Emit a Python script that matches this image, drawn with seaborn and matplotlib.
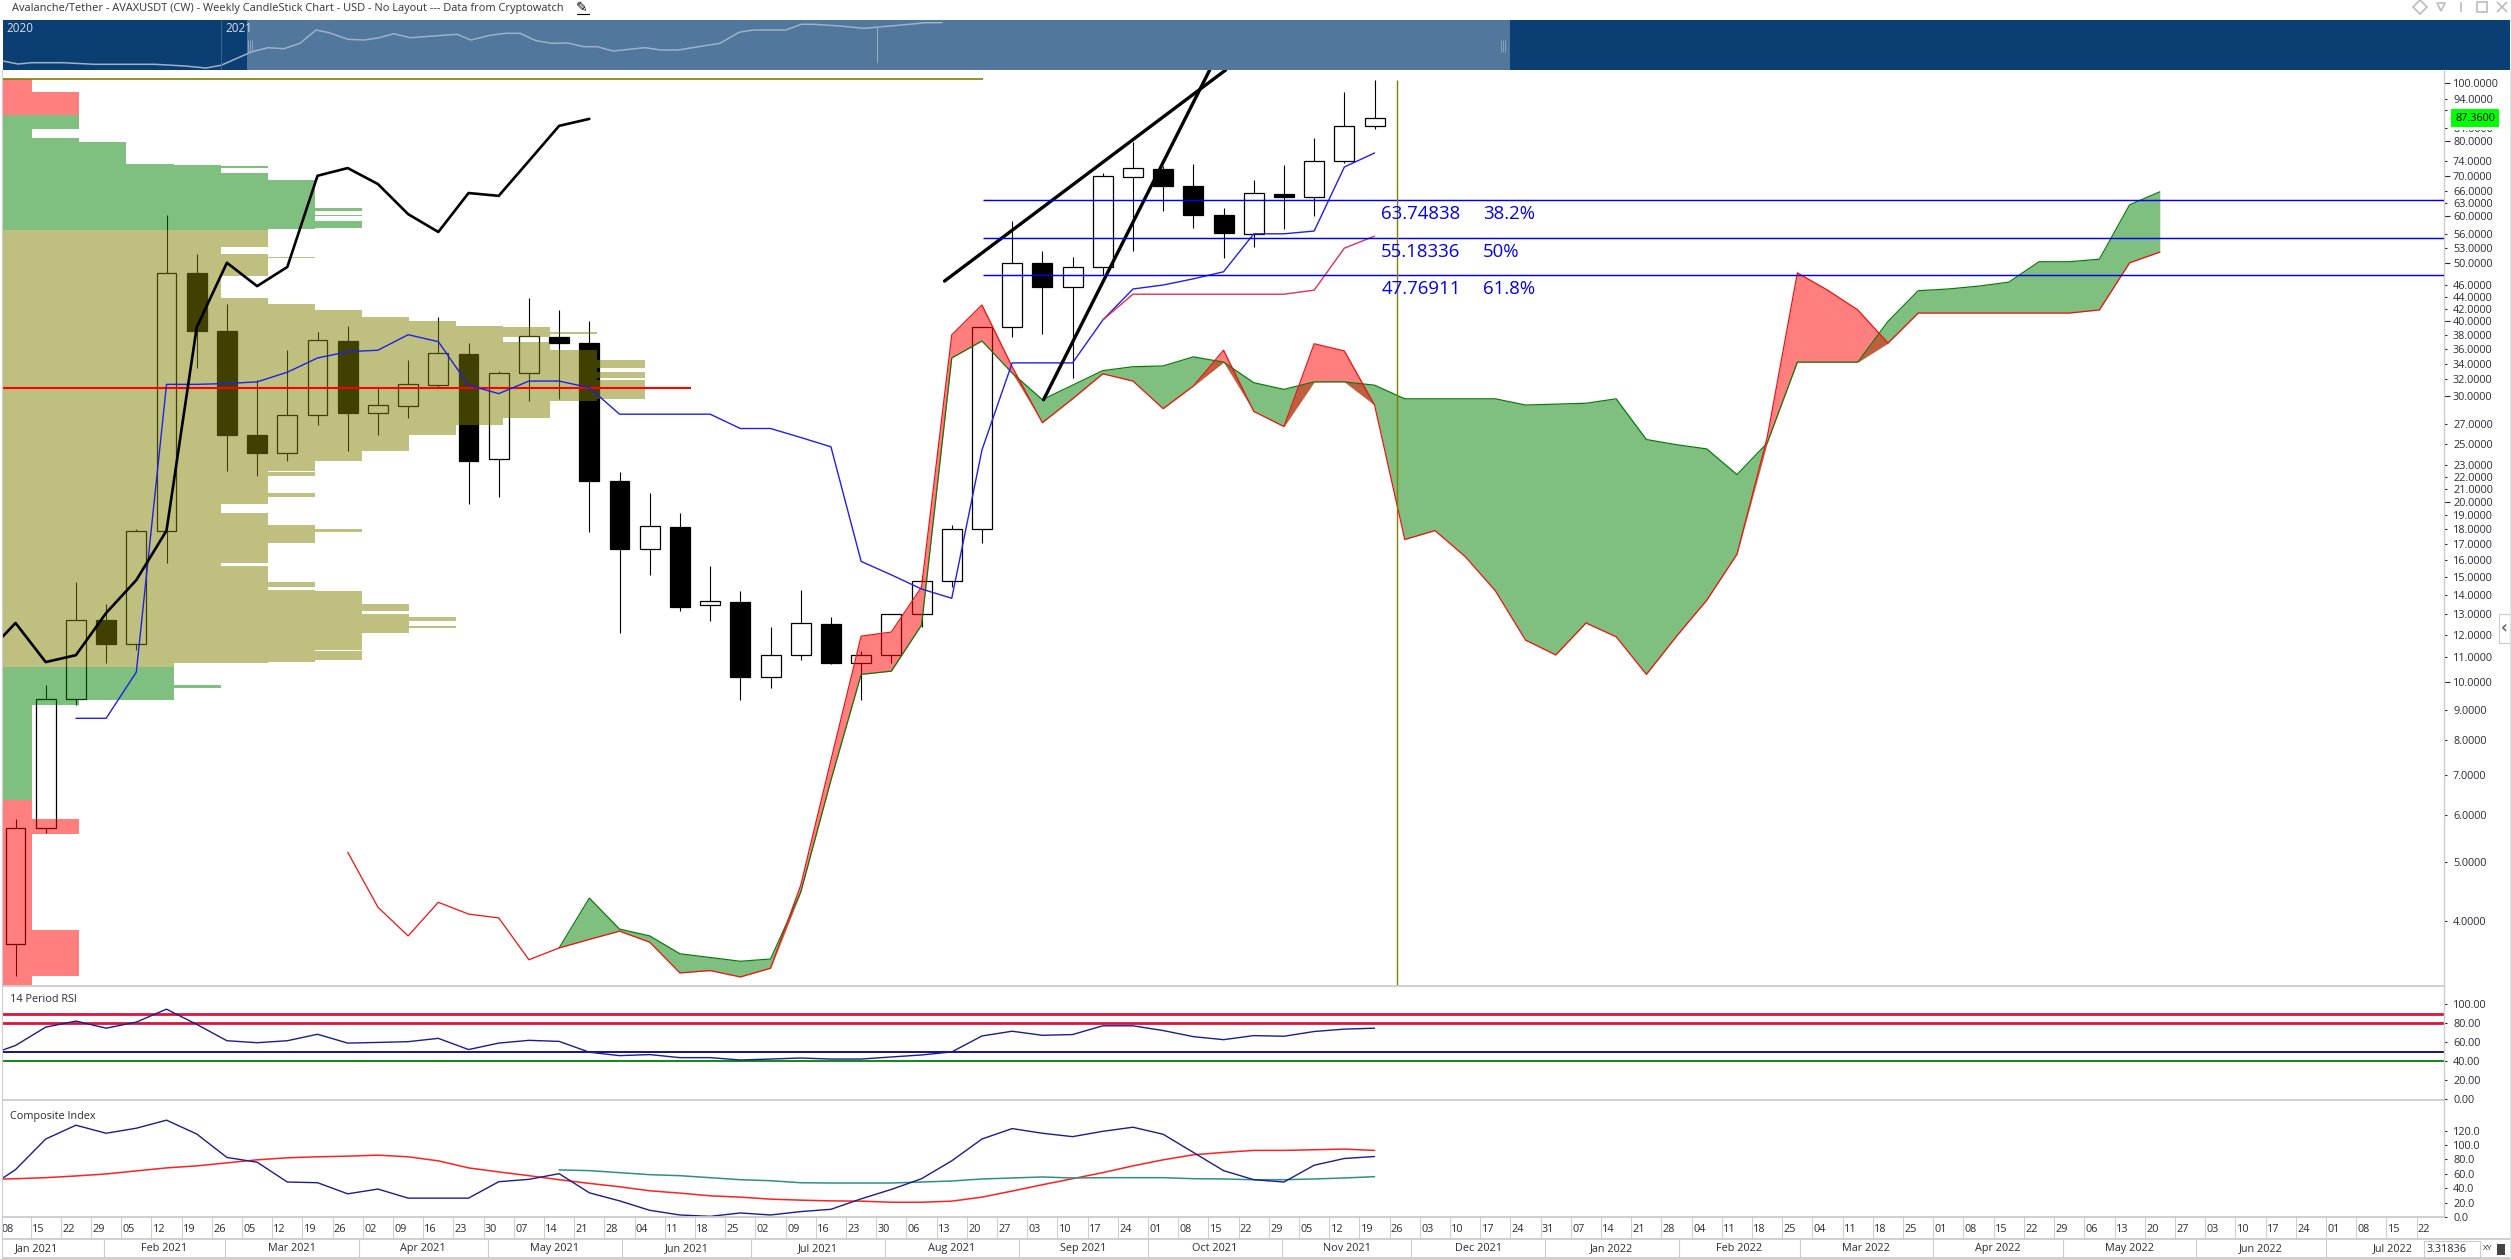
import numpy as np
import pandas as pd
import seaborn as sns
import matplotlib
matplotlib.use('Agg')
import matplotlib.pyplot as plt
from matplotlib.lines import Line2D
from matplotlib.patches import Rectangle
from matplotlib.ticker import FixedLocator, FixedFormatter

# weekly candles, AVAXUSDT
opens = [3.65, 5.71, 9.37, 12.69, 11.57, 17.87, 48.2, 38.5, 25.85, 24.1, 27.9, 37.1, 28.1, 28.9, 31.3, 35.3,
         23.6, 32.8, 37.7, 36.8, 21.7, 16.67, 18.15, 13.45, 13.6, 10.19, 11.09, 12.5, 10.76, 11.09, 13.0, 14.75,
         18.0, 39.1, 50.0, 45.6, 49.3, 69.7, 71.8, 67.3, 60.2, 56.0, 65.2, 64.5, 74.1, 84.8]
highs = [5.9, 9.89, 14.69, 13.5, 18.0, 60.2, 51.8, 42.8, 31.9, 35.8, 38.4, 39.3, 31.0, 34.5, 40.7, 36.8,
         33.0, 43.8, 41.8, 40.0, 22.4, 20.7, 19.15, 15.6, 14.19, 12.35, 14.24, 12.84, 11.27, 13.0, 15.1, 18.3,
         39.1, 58.8, 52.4, 51.2, 70.8, 79.7, 72.6, 73.2, 61.8, 68.9, 72.9, 81.0, 96.6, 101.2]
lows = [3.23, 5.6, 9.15, 10.76, 11.31, 15.8, 33.4, 22.5, 22.1, 23.4, 26.9, 24.3, 25.85, 27.6, 31.0, 19.8,
        20.4, 29.4, 29.7, 17.8, 12.07, 15.1, 13.14, 12.64, 9.33, 9.77, 10.88, 10.7, 9.33, 10.76, 12.35, 14.4,
        17.06, 37.7, 38.1, 32.2, 47.8, 52.4, 61.1, 57.3, 51.0, 53.2, 57.0, 60.0, 73.6, 83.8]
closes = [5.71, 9.37, 12.69, 11.57, 17.87, 48.2, 38.5, 25.85, 24.1, 27.9, 37.2, 28.1, 29.0, 31.4, 35.4, 23.4,
          32.8, 37.8, 36.8, 21.7, 16.67, 18.2, 13.34, 13.66, 10.19, 11.09, 12.55, 10.76, 11.09, 13.0, 14.75, 18.0,
          39.1, 50.1, 45.6, 49.3, 70.0, 72.1, 67.3, 60.2, 56.2, 65.5, 64.5, 74.1, 84.8, 87.36]

# ichimoku
span_b_start = 11
span_b = [5.2, 4.21, 3.77, 4.29, 4.1, 4.04, 3.44, 3.6, 3.72, 3.84, 3.68, 3.27, 3.3, 3.22, 3.33, 4.58, 7.41, 11.93,
          12.12, 14.41, 37.97, 42.6, 33.6, 27.1, 29.7, 32.7, 31.8, 28.6, 31.2, 35.8, 28.3, 26.7, 36.7, 35.7, 29.0,
          17.3, 17.9, 16.2, 14.2, 11.75, 11.1, 12.55, 11.9, 10.3, 11.93, 13.7, 16.35, 25.6, 48.2, 45.1, 41.8, 36.8,
          41.3, 41.3, 41.3, 41.3, 41.3, 41.3, 41.8, 50.1, 52.2]
span_a_start = 18
span_a = [3.6, 4.36, 3.87, 3.77, 3.52, 3.47, 3.42, 3.45, 4.46, 6.86, 10.3, 10.43, 12.45, 34.75, 37.1, 32.8, 29.6,
          31.3, 33.1, 33.6, 33.7, 34.9, 34.2, 31.6, 30.8, 31.7, 31.7, 31.3, 29.7, 29.7, 29.7, 29.7, 29.0, 29.1, 29.2,
          29.7, 25.4, 24.9, 24.5, 22.2, 25.06, 34.2, 34.2, 34.2, 40.0, 45.0, 45.3, 45.8, 46.5, 50.3, 50.3, 50.8,
          62.6, 65.8]
kijun_start = 2
kijun = [8.7, 8.7, 10.39, 31.4, 31.4, 31.5, 31.7, 32.9, 34.75, 35.6, 35.8, 38.0, 37.0, 31.3, 30.3, 31.8, 31.8, 31.0,
         28.0, 28.0, 28.0, 28.0, 26.5, 26.5, 25.6, 24.7, 15.9, 15.1, 14.3, 13.8, 24.4, 34.1, 34.1, 34.1, 40.2, 45.3,
         46.0, 47.1, 48.4, 56.0, 56.0, 56.6, 72.4, 76.4]
tenkan_start = 36
tenkan = [40.2, 44.4, 44.4, 44.4, 44.4, 44.4, 44.4, 45.1, 53.0, 55.5]
chikou_start = -1
chikou = [11.1, 12.55, 10.8, 11.09, 13.04, 14.8, 17.9, 39.1, 50.1, 45.8, 49.3, 70.0, 72.1, 67.8, 60.4, 56.4, 65.5,
          64.8, 74.1, 84.8, 87.1]

# hand drawn trend lines
trend1_x = [30.76, 40.07]
trend1_y = [46.7, 105.1]
trend2_x = [34.04, 39.54]
trend2_y = [29.6, 105.1]

# volume profile, price rows from the top down and their width level
vp_edges = [101.4, 96.6, 88.4, 83.8, 80.9, 79.7, 73.2, 72.9, 72.6, 72.1, 70.8, 68.9, 61.8, 61.1, 60.2, 60.0, 58.8,
            57.3, 57.0,
            56.8, 53.2, 51.8, 51.2, 51.0, 47.6, 43.8, 42.8, 41.8, 40.7, 40.0, 39.3, 39.1, 38.4, 38.1, 37.7, 36.9,
            35.8, 34.5, 33.4, 32.9, 32.2, 31.9, 29.7, 29.4, 27.6, 26.9, 25.8, 24.3, 23.4, 22.5, 22.4, 22.1, 20.7,
            20.4, 19.8, 19.15, 18.3, 18.0, 17.8, 17.06, 15.8, 15.6, 14.7, 14.4, 14.24, 14.19, 13.5, 13.14, 13.0,
            12.84, 12.64, 12.4, 12.3, 12.07, 11.31, 11.27, 10.88, 10.8, 10.76, 10.59,
            9.89, 9.77, 9.33, 9.15, 6.35, 5.9, 5.57, 3.85, 3.23, 3.11]
vp_level = [0, 1, 1, 0, 1, 2, 3, 4, 5, 4, 5, 6, 7, 6, 7, 6, 7, 6, 5,
            5, 4, 5, 6, 5, 4, 5, 6, 7, 8, 9, 10, 11, 12, 11, 10, 11, 12, 13, 12, 13, 12, 13, 12, 11, 10, 9, 8, 7, 6,
            5, 6, 5, 6, 5, 4, 5, 6, 7, 6, 5, 4, 5, 6, 5, 6, 7, 8, 7, 8, 9, 8, 9, 8, 7, 6, 7, 6, 5, 3,
            3, 4, 3, 1, 0, 0, 1, 0, 1, 0]
poc_price = 31.0
profile_top = 101.4

fib_prices = [63.74838, 55.18336, 47.76911]
fib_pcts = ['38.2%', '50%', '61.8%']
last_price = 87.36

price_major = [100, 80, 70, 60, 50, 40, 30, 20, 10]
price_minor = [94, 90, 84, 74, 66, 63, 56, 53, 46, 44, 42, 38, 36, 34, 32, 27, 25, 23, 22, 21, 19, 18, 17, 16, 15,
               14, 13, 12, 11, 9, 8, 7, 6, 5, 4]

rsi_start = -1
rsi = [45.0, 56.4, 75.7, 82.1, 74.6, 81.0, 94.6, 78.6, 61.4, 59.3, 61.4, 68.2, 58.9, 59.6, 60.4, 63.9, 52.1, 58.9,
       61.8, 60.7, 49.3, 45.7, 46.8, 43.6, 43.6, 41.1, 42.1, 43.2, 42.1, 42.1, 44.3, 46.4, 49.6, 66.4, 71.4, 67.1,
       67.9, 77.1, 77.1, 72.1, 65.7, 62.5, 66.8, 66.1, 71.1, 73.6, 74.6]
rsi_levels = [90, 80, 50, 40]
rsi_level_colors = ['#dc143c', '#dc143c', '#000080', '#008000']
rsi_ticks = [100, 80, 60, 40, 20, 0]

comp_start = -1
comp = [38.0, 65.8, 108.3, 127.5, 116.3, 123.3, 134.5, 115.3, 82.7, 76.1, 48.6, 47.6, 32.2, 38.8, 26.2, 26.2, 26.2,
        49.0, 52.3, 60.2, 33.6, 22.4, 9.3, 2.8, 0.9, 5.6, 2.8, 7.5, 10.7, 25.2, 38.3, 53.2, 78.0, 108.3, 122.8,
        116.3, 111.6, 119.0, 124.7, 114.9, 89.7, 64.4, 51.8, 48.6, 71.9, 81.3, 84.0]
comp_fast_start = -1
comp_fast = [52.0, 53.2, 54.6, 57.0, 59.8, 64.0, 68.2, 71.0, 75.2, 79.4, 82.2, 83.6, 84.5, 85.9, 83.6, 78.0, 68.2, 62.6,
             57.4, 51.8, 46.7, 42.0, 36.4, 33.2, 29.4, 27.6, 24.8, 23.4, 22.4, 22.0, 20.5, 20.5, 22.0, 27.6, 36.0,
             44.8, 53.2, 61.6, 71.0, 79.4, 86.4, 89.7, 92.5, 92.5, 93.4, 94.3, 92.5]
comp_slow_start = 18
comp_slow = [65.4, 64.4, 61.6, 58.8, 57.4, 54.6, 51.8, 50.4, 47.6, 47.2, 47.2, 47.2, 48.6, 50.0, 52.8, 54.2, 55.6,
             54.2, 54.6, 54.6, 54.6, 53.2, 52.8, 51.8, 51.8, 52.8, 54.2, 56.0]
comp_ticks = [120, 100, 80, 60, 40, 20, 0]

week_labels = ['08', '15', '22', '29', '05', '12', '19', '26', '05', '12', '19', '26', '02', '09', '16', '23', '30',
               '07', '14', '21', '28', '04', '11', '18', '25', '02', '09', '16', '23', '30', '06', '13', '20', '27',
               '03', '10', '17', '24', '01', '08', '15', '22', '29', '05', '12', '19', '26', '03', '10', '17', '24',
               '31', '07', '14', '21', '28', '04', '11', '18', '25', '04', '11', '18', '25', '01', '08', '15', '22',
               '29', '06', '13', '20', '27', '03', '10', '17', '24', '01', '08', '15', '22']
first_week = pd.Timestamp('2021-01-08')
month_starts = pd.date_range('2021-01-01', '2022-08-01', freq='MS')

# overview strip
nav_t = [0, 15, 29, 60, 91, 152, 182, 203, 218, 249, 265, 281, 297, 313, 326, 345, 361, 375, 391, 407, 454, 468, 487,
         503, 517, 533, 549, 565, 581, 594, 610, 642, 658, 675, 717, 736, 750, 783, 798, 811, 837, 861, 891, 923, 939]
nav_v = [9, 6, 7.3, 7.3, 5.7, 5.7, 4, 2, 4.7, 18.3, 22.3, 21.3, 26.7, 40, 37.3, 30.7, 30, 32, 36.3, 32.3, 35.7, 30,
         34.7, 36.7, 36.7, 29.3, 26.7, 27, 23.3, 23.3, 19, 22.3, 20, 20, 26.7, 37.7, 40, 40, 45.7, 45.7, 44, 41.7,
         44.3, 47.3, 47.3]
nav_window = [244, 1507]
nav_year_t = [3, 222]
nav_years = ['2020', '2021']

W, H = 2511, 1259
BORDER = '#cccccc'
TEXT = '#2b2b3a'
STEP = 30.2
LEVEL_W = 47.1 / STEP  # one profile level, in weeks

sns.set_style('white')
plt.rcParams['font.family'] = ['Open Sans', 'DejaVu Sans']
plt.rcParams['font.size'] = 7.8

fig = plt.figure(figsize=(W / 100, H / 100), dpi=100, facecolor='white')


def panel(left, top, right, bottom):
    a = fig.add_axes([left / W, 1 - bottom / H, (right - left) / W, (bottom - top) / H])
    for s in a.spines.values():
        s.set_visible(False)
    return a


def style_ticks(a, major, minor, fmt):
    a.yaxis.tick_right()
    a.yaxis.set_major_locator(FixedLocator(major))
    a.yaxis.set_major_formatter(FixedFormatter([fmt % v for v in major]))
    a.yaxis.set_minor_locator(FixedLocator(minor))
    a.yaxis.set_minor_formatter(FixedFormatter([fmt % v for v in minor]))
    a.tick_params(axis='y', which='major', length=4.3, width=0.8, pad=2.2, colors=TEXT, labelsize=7.8)
    a.tick_params(axis='y', which='minor', length=2.2, width=0.8, pad=4.3, colors=TEXT, labelsize=7.8)
    a.set_xticks([])
    a.set_ylabel('')
    a.set_xlabel('')


XLIM = (-0.414, 80.41)
idx = np.arange(len(opens))

# overview strip
nav = panel(3, 20, 2510, 70)
nav.set_facecolor('#0b3f73')
nav.axvspan(nav_window[0], nav_window[1], color='#52779d', lw=0)
sns.lineplot(x=nav_t, y=nav_v, ax=nav, color='#9db1c8', lw=1.1, estimator=None, errorbar=None)
nav.axvline(nav_year_t[1] - 4, color='#3d6690', lw=0.7)
nav.vlines(874, 8, 43, color='#9db1c8', lw=0.7)
for g in [0, 2, 4]:
    nav.vlines(nav_window[0] + 1 + g, 18, 30, color='#9db1c8', lw=0.5)
    nav.vlines(nav_window[1] - 9 + g, 18, 30, color='#9db1c8', lw=0.5)
for t, y in zip(nav_year_t, nav_years):
    nav.text(t, 48, y, color='#d5dfea', fontsize=8.4, va='top', ha='left')
nav.set_xlim(0, 2507)
nav.set_ylim(0, 50)
nav.set_xticks([])
nav.set_yticks([])
nav.set_xlabel('')
nav.set_ylabel('')

# price panel
ax = panel(3, 70, 2444, 986)
ax.set_yscale('log')
ax.set_xlim(*XLIM)
ax.set_ylim(3.11, 105.1)
ax.spines['right'].set_visible(True)
ax.spines['right'].set_color(BORDER)
ax.spines['right'].set_linewidth(1)

up = [c >= o for o, c in zip(opens, closes)]
ax.vlines(idx, lows, highs, color='black', lw=0.8, zorder=2)
ax.bar(idx, np.abs(np.array(closes) - np.array(opens)), bottom=np.minimum(opens, closes), width=0.66,
       color=['white' if u else 'black' for u in up], edgecolor='black', lw=0.9, zorder=2.1)

# profile sits over the candles at half alpha, that is why black bodies turn olive
edges = np.array(vp_edges)
vp_colors = []
for lo in edges[1:]:
    if lo >= 88.3 or lo < 6.0:
        vp_colors.append((1, 0, 0, 0.5))
    elif lo >= 56.7 or lo < 10.5:
        vp_colors.append((0, 0.5, 0, 0.5))
    else:
        vp_colors.append((0.5, 0.5, 0, 0.5))
ax.barh(edges[1:], (np.array(vp_level) + 0.62) * LEVEL_W, height=edges[:-1] - edges[1:], left=XLIM[0], align='edge',
        color=vp_colors, lw=0, antialiased=False, zorder=3)
ax.hlines(poc_price, XLIM[0], 22.37, color='#ff0000', lw=1.5, zorder=5)
ax.hlines(profile_top, XLIM[0], 32.04, color='#808000', lw=1.2, zorder=5)

# cloud, each colour collapses onto its own span when the other one is on top,
# so the two overlap in brown slivers where the spans cross
b_x = np.arange(span_b_start, span_b_start + len(span_b))
a_x = np.arange(span_a_start, span_a_start + len(span_a))
a_on_b = np.array(span_a)
b_on_a = np.array(span_b)[span_a_start - span_b_start:]
cloud_floor = np.minimum(a_on_b, b_on_a)
ax.fill_between(a_x, a_on_b, cloud_floor, color='green', alpha=0.5, lw=0, zorder=4)
ax.fill_between(a_x, b_on_a, cloud_floor, color='red', alpha=0.5, lw=0, zorder=4)
sns.lineplot(x=a_x, y=span_a, ax=ax, color='#0a7a0a', lw=0.9, estimator=None, errorbar=None, zorder=4.5)
sns.lineplot(x=b_x, y=span_b, ax=ax, color='#f01010', lw=0.9, estimator=None, errorbar=None, zorder=4.6)

# indicator lines
sns.lineplot(x=np.arange(kijun_start, kijun_start + len(kijun)), y=kijun, ax=ax, color='#2020e8', lw=1.0,
             estimator=None, errorbar=None, zorder=5)
sns.lineplot(x=np.arange(tenkan_start, tenkan_start + len(tenkan)), y=tenkan, ax=ax, color='#e0305c', lw=1.0,
             estimator=None, errorbar=None, zorder=5)
sns.lineplot(x=np.arange(chikou_start, chikou_start + len(chikou)), y=chikou, ax=ax, color='black', lw=1.9,
             estimator=None, errorbar=None, zorder=6)
sns.lineplot(x=trend1_x, y=trend1_y, ax=ax, color='black', lw=2.4, estimator=None, errorbar=None, zorder=6)
sns.lineplot(x=trend2_x, y=trend2_y, ax=ax, color='black', lw=2.4, estimator=None, errorbar=None, zorder=6)

# fib levels
ax.hlines(fib_prices, 32.04, XLIM[1], color='#0000ee', lw=1.05, zorder=6)
for p, pct, below in zip(fib_prices, fib_pcts, [10.3, 10.3, 9.9]):
    ax.annotate('%.5f' % p, (45.22, p), xytext=(0, -below), textcoords='offset points', color='#0000ee',
                fontsize=13.4, va='center', ha='left', zorder=7)
    ax.annotate(pct, (48.6, p), xytext=(0, -below), textcoords='offset points', color='#0000ee',
                fontsize=13.4, va='center', ha='left', zorder=7)
ax.vlines(45.73, 3.11, 101.0, color='#808000', lw=1.0, zorder=6)

style_ticks(ax, price_major, price_minor, '%.4f')

# last price tag, white backing hides the labels next to it
trans = ax.get_yaxis_transform()
ax.text(1.0127, last_price, '87.3600', transform=trans, fontsize=7.8, color='white', va='center', ha='center',
        bbox=dict(boxstyle='square,pad=0.62', fc='white', ec='none'), zorder=9, clip_on=False)
ax.text(1.0127, last_price, '87.3600', transform=trans, fontsize=7.8, color='black', va='center', ha='center',
        bbox=dict(boxstyle='square,pad=0.34', fc='#00ff00', ec='none'), zorder=10, clip_on=False)

# RSI panel
ax_rsi = panel(3, 986, 2444, 1100)
ax_rsi.set_xlim(*XLIM)
ax_rsi.set_ylim(-1, 119)
for lvl, col in zip(rsi_levels, rsi_level_colors):
    ax_rsi.axhline(lvl, color=col, lw=2.0 if lvl > 50 else 1.3, zorder=2)
sns.lineplot(x=np.arange(rsi_start, rsi_start + len(rsi)), y=rsi, ax=ax_rsi, color='#1c1c8c', lw=1.0,
             estimator=None, errorbar=None, zorder=3)
style_ticks(ax_rsi, rsi_ticks, [], '%.2f')
ax_rsi.tick_params(axis='y', which='major', length=2.2, pad=4.3)
ax_rsi.text(0.0028, 0.88, '14 Period RSI', transform=ax_rsi.transAxes, color=TEXT, fontsize=7.8, va='center')

# composite index panel
ax_comp = panel(3, 1100, 2444, 1217)
ax_comp.set_xlim(*XLIM)
ax_comp.set_ylim(0, 162.5)
comp_x = np.arange(comp_start, comp_start + len(comp))
sns.lineplot(x=np.arange(comp_fast_start, comp_fast_start + len(comp_fast)), y=comp_fast, ax=ax_comp, color='#ff2020',
             lw=1.1, estimator=None, errorbar=None, zorder=3)
sns.lineplot(x=np.arange(comp_slow_start, comp_slow_start + len(comp_slow)), y=comp_slow, ax=ax_comp, color='#2e8f88',
             lw=1.1, estimator=None, errorbar=None, zorder=3)
sns.lineplot(x=comp_x, y=comp, ax=ax_comp, color='#1c1c8c', lw=1.0, estimator=None, errorbar=None, zorder=4)
style_ticks(ax_comp, comp_ticks, [], '%.1f')
ax_comp.tick_params(axis='y', which='major', length=2.2, pad=4.3)
ax_comp.text(0.0028, 0.863, 'Composite Index', transform=ax_comp.transAxes, color=TEXT, fontsize=7.8, va='center')

# week row
ax_week = panel(3, 1217, 2444, 1239)
ax_week.set_xlim(*XLIM)
ax_week.set_ylim(0, 1)
ax_week.set_xticks([])
ax_week.set_yticks([])
for k, lab in enumerate(week_labels):
    ax_week.axvline(k - 0.5, color=BORDER, lw=0.7)
    ax_week.text(k - 0.25, 0.45, lab, ha='center', va='center', color=TEXT, fontsize=7.8, clip_on=True)

# month row
ax_month = panel(3, 1239, 2444, 1258)
ax_month.set_xlim(*XLIM)
ax_month.set_ylim(0, 1)
ax_month.set_xticks([])
ax_month.set_yticks([])
month_pos = (month_starts - first_week).days / 7 - 0.5
for m0, m1, d in zip(month_pos[:-1], month_pos[1:], month_starts[:-1]):
    ax_month.axvline(m0, color=BORDER, lw=0.8)
    ax_month.text((m0 + m1) / 2, 0.5, d.strftime('%b %Y'), ha='center', va='center', color=TEXT, fontsize=7.8)

# window chrome
for y in [986, 1100, 1217, 1239, 1258]:
    fig.add_artist(Line2D([3 / W, 2511 / W if y in (1239, 1258) else 2444 / W], [1 - y / H] * 2, color=BORDER, lw=1.3))
fig.add_artist(Line2D([2 / W, 2 / W], [1 - 70 / H, 1 - 1258 / H], color=BORDER, lw=0.8))
fig.add_artist(Line2D([2444 / W, 2444 / W], [1 - 986 / H, 1 - 1217 / H], color=BORDER, lw=1))
fig.add_artist(Line2D([2510 / W, 2510 / W], [1 - 70 / H, 1 - 1258 / H], color='#e4e4e4', lw=0.8))

fig.text(12 / W, 1 - 8 / H, 'Avalanche/Tether - AVAXUSDT (CW) - Weekly CandleStick Chart - USD - No Layout --- Data from Cryptowatch',
         color='#333333', fontsize=7.9, va='center', ha='left')
fig.text(582 / W, 1 - 8 / H, '\u270e', color='black', fontsize=10, va='center', ha='center', family='DejaVu Sans')
fig.add_artist(Line2D([577 / W, 589 / W], [1 - 14 / H] * 2, color='black', lw=0.8))

for px, mk in zip([2420, 2441, 2461, 2482, 2502], ['D', 'v', '|', 's', 'x']):
    fig.add_artist(Line2D([px / W], [1 - 7 / H], marker=mk, ms=7 if mk != 'v' else 6, mfc='none', mec='#bcbcbc', mew=1.2, lw=0))

fig.add_artist(Rectangle((2499 / W, 1 - 643 / H), 11 / W, 29 / H, fc='white', ec=BORDER, lw=0.8,
                         transform=fig.transFigure))
fig.text(2504 / W, 1 - 628 / H, '\u2039', color='#666666', fontsize=12, fontweight='bold', va='center', ha='center',
         family='DejaVu Sans')

fig.add_artist(Rectangle((2424 / W, 1 - 1258 / H), 56 / W, 17 / H, fc='white', ec=BORDER, lw=0.8,
                         transform=fig.transFigure))
fig.text(2427 / W, 1 - 1249 / H, '3.31836', color=TEXT, fontsize=7.8, va='center', ha='left')
fig.text(2488 / W, 1 - 1248 / H, 'XY', color=TEXT, fontsize=6, va='center', ha='center')
fig.add_artist(Rectangle((2497 / W, 1 - 1255 / H), 8 / W, 11 / H, fc='#444444', ec='none', transform=fig.transFigure))

fig.savefig('out.png', dpi=100, facecolor='white')
